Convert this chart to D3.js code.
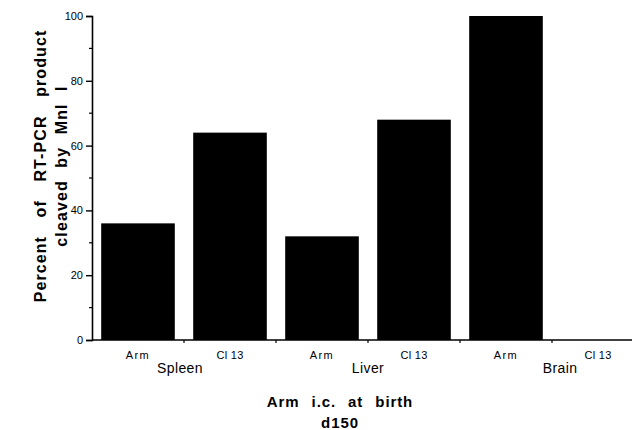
<!DOCTYPE html>
<html>
<head>
<meta charset="utf-8">
<script src="https://cdn.jsdelivr.net/npm/d3@7"></script>
<style>
  body { margin: 0; background: #fff; }
  svg { font-family: "Liberation Sans", Arial, sans-serif; }
  .title { font-weight: bold; font-size: 15px; word-spacing: 7px; letter-spacing: 0.9px; }
  .ytitle { font-size: 16px; letter-spacing: 1.1px; }
</style>
</head>
<body>
<svg width="632" height="430"></svg>
<script>
const tissues = ['Spleen', 'Liver', 'Brain']
const strains = ['Arm', 'Cl 13']
const percents = [36, 64, 32, 68, 100, 0]
const yTicks = [0, 20, 40, 60, 80, 100]

const svg = d3.select('svg')
const margin = {left: 92, top: 16, bottom: 90}

const data = []
tissues.forEach((t, i) => strains.forEach((s, j) => {
  data.push({tissue: t, strain: s, key: t + '|' + s, value: percents[i * strains.length + j]})
}))

const xScale = d3.scaleBand()
  .domain(data.map(d => d.key))
  .range([margin.left, margin.left + 552])
  .paddingInner(0.2)
  .paddingOuter(0.1)

const yScale = d3.scaleLinear()
  .domain([0, 100])
  .range([340, margin.top])

// bars
svg.selectAll('rect.bar')
  .data(data)
  .enter()
  .append('rect')
  .attr('class', 'bar')
  .attr('x', d => xScale(d.key))
  .attr('y', d => yScale(d.value))
  .attr('width', xScale.bandwidth())
  .attr('height', d => yScale(0) - yScale(d.value))
  .attr('fill', '#000')

// y axis
const yAxisG = svg.append('g')
  .attr('transform', `translate(${margin.left},0)`)
  .call(d3.axisLeft(yScale).tickValues(yTicks).tickSize(6).tickPadding(3))
yAxisG.select('.domain').attr('stroke-width', 1.6)
yAxisG.selectAll('.tick line').attr('stroke-width', 1.4)
yAxisG.selectAll('.tick text').attr('font-size', 11).attr('font-family', '"Liberation Sans", Arial, sans-serif')

// minor ticks
svg.append('g')
  .selectAll('line')
  .data(d3.range(10, 100, 20))
  .enter()
  .append('line')
  .attr('x1', margin.left - 3)
  .attr('x2', margin.left)
  .attr('y1', d => yScale(d))
  .attr('y2', d => yScale(d))
  .attr('stroke', '#000')
  .attr('stroke-width', 1.2)

// x axis line
svg.append('line')
  .attr('x1', margin.left)
  .attr('x2', 632)
  .attr('y1', yScale(0))
  .attr('y2', yScale(0))
  .attr('stroke', '#000')
  .attr('stroke-width', 1.4)

// band boundary ticks
const step = xScale.step()
svg.append('g')
  .selectAll('line')
  .data(d3.range(1, data.length))
  .enter()
  .append('line')
  .attr('x1', i => margin.left + i * step)
  .attr('x2', i => margin.left + i * step)
  .attr('y1', yScale(0))
  .attr('y2', yScale(0) + 3)
  .attr('stroke', '#000')
  .attr('stroke-width', 1.2)

// strain labels
svg.append('g')
  .selectAll('text')
  .data(data)
  .enter()
  .append('text')
  .attr('x', d => xScale(d.key) + xScale.bandwidth() / 2)
  .attr('y', 359)
  .attr('text-anchor', 'middle')
  .attr('font-size', 11)
  .attr('letter-spacing', d => d.strain === 'Arm' ? 1.4 : 0.3)
  .text(d => d.strain)

// tissue labels, roughly on the boundary between the two strains
const tissueShift = i => (i === 0 ? -4 : i === 2 ? 8 : 0)
svg.append('g')
  .selectAll('text')
  .data(tissues)
  .enter()
  .append('text')
  .attr('x', (t, i) => margin.left + (i * 2 + 1) * step + tissueShift(i))
  .attr('y', 373)
  .attr('text-anchor', 'middle')
  .attr('font-size', 14)
  .attr('letter-spacing', 0.4)
  .text(t => t)

// x title
const xt = svg.append('text')
  .attr('class', 'title')
  .attr('text-anchor', 'middle')
  .attr('x', 340)
  .attr('y', 407)
xt.append('tspan').attr('x', 340).text('Arm i.c. at birth')
xt.append('tspan').attr('x', 340).attr('dy', 21).text('d150')

// y title
const yt = svg.append('text')
  .attr('class', 'title ytitle')
  .attr('text-anchor', 'middle')
  .attr('transform', 'translate(46,166) rotate(-90)')
yt.append('tspan').attr('x', 0).attr('y', 0).attr('word-spacing', 13).text('Percent of RT-PCR product')
yt.append('tspan').attr('x', 0).attr('y', 21).text('cleaved by Mnl I')
</script>
</body>
</html>
